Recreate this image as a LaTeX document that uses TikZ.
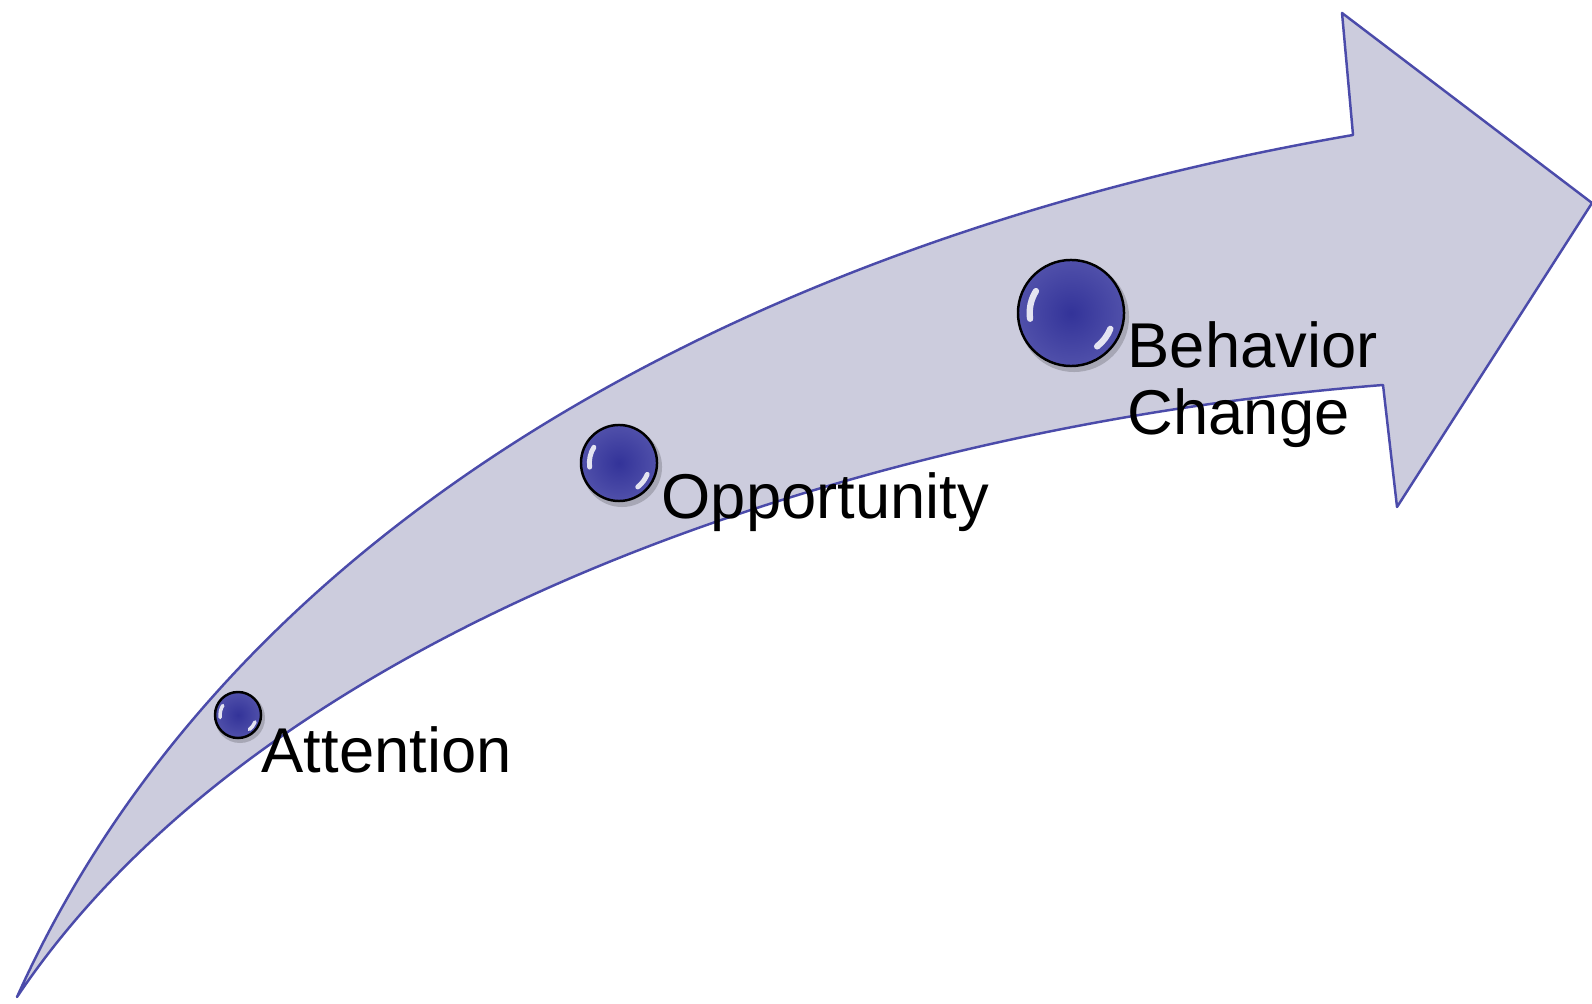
\documentclass[tikz,border=0pt]{standalone}
\usepackage{fontspec}
\setmainfont{Liberation Sans}
\definecolor{arrowfill}{RGB}{204,204,221}
\definecolor{arrowline}{RGB}{75,75,170}
\definecolor{ballblue}{RGB}{51,51,153}
\definecolor{balledge}{RGB}{80,80,170}
\newcommand\ballhl[3]{% name, radius (px), line width
  \begin{scope}[shift={(#1.center)}]
    \draw[hl, line width=#3] (172:{0.78*#2}) arc[start angle=172, end angle=212, radius={0.78*#2}];
    \draw[hl, line width=#3] (22:{0.8*#2}) arc[start angle=22, end angle=52, radius={0.8*#2}];
  \end{scope}}
\begin{document}
\begin{tikzpicture}[x=0.01cm,y=-0.01cm,
  arrowshape/.style={fill=arrowfill, draw=arrowline, line width=0.7pt, line join=round},
  ball/.style={circle, draw=black, line width=0.7pt, inner sep=0pt,
    inner color=ballblue, outer color=balledge},
  shadowball/.style={circle, fill=black, opacity=0.18, inner sep=0pt},
  hl/.style={draw=white, opacity=0.85, line cap=round},
  lbl/.style={inner sep=0pt, font=\fontsize{18pt}{19pt}\selectfont, text=black}]
\useasboundingbox (0,0) rectangle (1592,1004);
% curved arrow
\coordinate (tail) at (17,997);
\coordinate (upin) at (1353,135);
\coordinate (upbarb) at (1342,13);
\coordinate (tip) at (1592,203);
\coordinate (lobarb) at (1397,507);
\coordinate (loin) at (1383,385);
\filldraw[arrowshape]
  (tail) .. controls (240,500) and (790,232) .. (upin)
  -- (upbarb) -- (tip) -- (lobarb) -- (loin)
  .. controls (870,425) and (270,620) .. (tail) -- cycle;
% balls
\node[shadowball, minimum size=0.50cm] (attsh) at (240,718) {};
\node[ball, minimum size=0.46cm] (attball) at (238,715) {};
\node[shadowball, minimum size=0.80cm] (oppsh) at (622,467) {};
\node[ball, minimum size=0.76cm] (oppball) at (619,463) {};
\node[shadowball, minimum size=1.10cm] (behsh) at (1074,317) {};
\node[ball, minimum size=1.06cm] (behball) at (1071,313) {};
\ballhl{attball}{23}{1.0pt}
\ballhl{oppball}{38}{1.4pt}
\ballhl{behball}{53}{1.8pt}
% labels
\node[lbl, anchor=base west] (att) at (261,772) {Attention};
\node[lbl, anchor=base west] (opp) at (661,519) {Opportunity};
\node[lbl, anchor=north west, align=left] (beh) at (1127,321) {Behavior\\Change};
\end{tikzpicture}
\end{document}
